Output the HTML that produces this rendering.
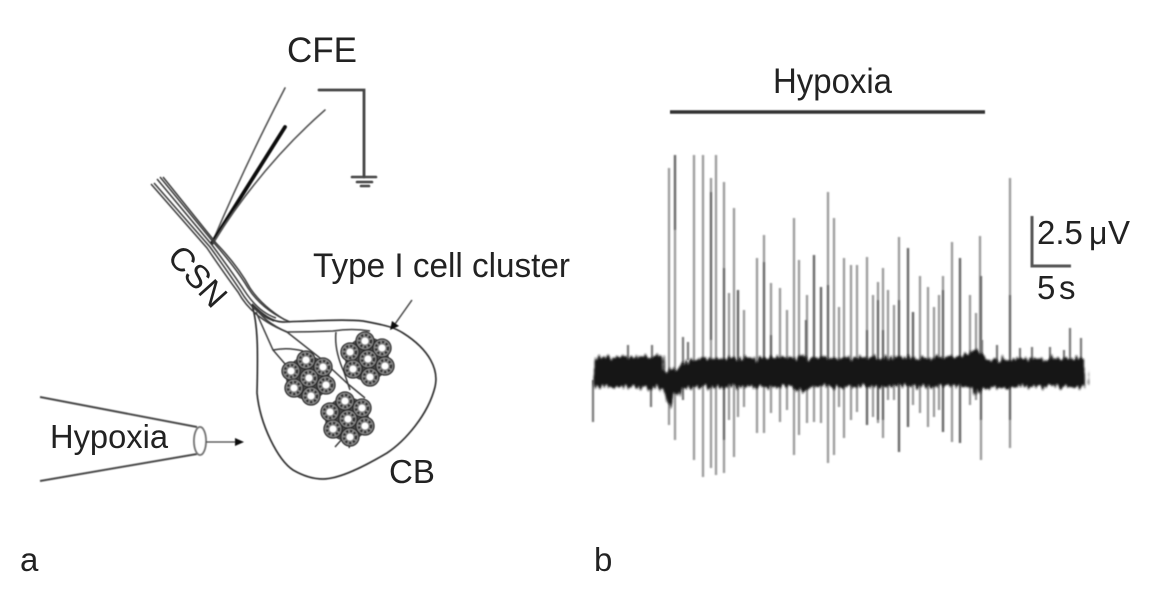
<!DOCTYPE html>
<html><head><meta charset="utf-8"><style>
html,body{margin:0;padding:0;background:#fff}
svg{display:block}
text{font-family:"Liberation Sans",sans-serif;fill:#222}
</style></head><body>
<svg width="1166" height="597" viewBox="0 0 1166 597" xmlns="http://www.w3.org/2000/svg">
<defs>
<filter id="b" x="-5%" y="-5%" width="110%" height="110%"><feGaussianBlur stdDeviation="0.6"/></filter>
<filter id="s" x="-5%" y="-5%" width="110%" height="110%"><feGaussianBlur stdDeviation="0.7"/></filter>
<filter id="n" x="-2%" y="-30%" width="104%" height="160%">
<feTurbulence type="fractalNoise" baseFrequency="0.35 0.02" numOctaves="2" seed="4" result="t"/>
<feDisplacementMap in="SourceGraphic" in2="t" scale="12" xChannelSelector="G" yChannelSelector="R"/>
<feGaussianBlur stdDeviation="1"/>
</filter>
<g id="ro">
<circle r="9" fill="#8a8a8a" stroke="#2a2a2a" stroke-width="1.3"/>
<circle r="6" fill="none" stroke="#333" stroke-width="2.6" stroke-dasharray="2.4 1.6"/>
<circle r="3.4" fill="#fff"/>
</g>
<g id="cl">
<circle r="22" fill="#444"/>
<use href="#ro" x="-17" y="-7"/><use href="#ro" x="-2" y="-18"/><use href="#ro" x="15" y="-11"/>
<use href="#ro" x="1" y="0"/><use href="#ro" x="18" y="7"/><use href="#ro" x="-14" y="10"/><use href="#ro" x="3" y="18"/>
</g>
</defs>

<g filter="url(#b)">
<!-- electrodes -->
<g fill="none" stroke-linecap="round">
<path d="M212 243 Q245 165 285 88" stroke="#555" stroke-width="1.6"/>
<path d="M212 243 L285 127" stroke="#111" stroke-width="3.8"/>
<path d="M213 243 Q262 165 325 110" stroke="#555" stroke-width="1.6"/>
<path d="M319 90 H364 V177" stroke="#444" stroke-width="2.8"/>
<path d="M352 177 H376" stroke="#444" stroke-width="2.6"/>
<path d="M357 182 H372" stroke="#444" stroke-width="2.6"/>
<path d="M361 186 H369" stroke="#444" stroke-width="2.6"/>
</g>
<!-- nerve -->
<g fill="none" stroke="#3c3c3c" stroke-width="1.5">
<path d="M154 183 L210 247 Q228 272 240 290 Q254 314 274 321"/>
<path d="M157 179 L212 245 Q232 272 244 290 Q258 312 276 318"/>
<path d="M160 177 L214 243 Q236 268 248 288 Q262 310 290 322"/>
<path d="M163 177 L216 243 Q238 266 250 288 Q262 306 285 320"/>
<path d="M151 184 L207 248 Q226 276 238 292 Q252 318 287 332 Q310 332 333 331 Q352 328 370 331"/>
<path d="M254 306 Q264 322 287 332 L320 358"/>
<path d="M256 312 L273 350 L292 372"/>
<path d="M273 350 Q288 347 303 351"/>
<path d="M336 332 Q334 350 344 372 L350 390"/>
<path d="M320 358 L348 384 L365 398"/>
<path d="M335 447 L343 438 M349 448 L352 438"/>
</g>
<!-- CB outline -->
<path d="M252 305 C258 325 258 350 257 393 C260 425 278 460 293 470 C305 477 315 479 323 479 C340 479 365 466 387 453 C405 441 428 415 435 387 C439 370 430 350 403 333 C395 328 390 326 363 321 C345 319 310 321 283 322 C272 322 262 314 252 304" fill="none" stroke="#333" stroke-width="1.7"/>
<!-- clusters -->
<use href="#cl" x="308" y="378"/>
<use href="#cl" x="367" y="359"/>
<use href="#cl" x="347" y="419"/>
<!-- arrows -->
<path d="M412 300 L395 324" stroke="#444" stroke-width="1.5"/>
<path d="M390 330 L392 321 L399 326 Z" fill="#111"/>
<path d="M40 397 L197 427 M40 481 L197 454" stroke="#4a4a4a" stroke-width="2" fill="none"/>
<ellipse cx="200" cy="441" rx="6" ry="14" fill="#fff" stroke="#777" stroke-width="2"/>
<path d="M206 442 H236" stroke="#444" stroke-width="1.3"/>
<path d="M244 442 L235 438 V446 Z" fill="#111"/>
<!-- bars -->
<path d="M670 112 H985" stroke="#333" stroke-width="3.4"/>
<path d="M1032 216 V266 H1071" fill="none" stroke="#555" stroke-width="3"/>
</g>

<g filter="url(#s)">
<!-- spikes light -->
<path stroke="#9a9a9a" stroke-width="2.3" fill="none" d="M669 168V425M694 155V460M703 155V477M711 178V468M716 155V475M724 182V473M734 208V457M729 293V420M738 290V417M744 310V407M757 258V433M764 235V433M771 283V413M780 288V422M787 310V410M794 218V455M799 260V435M807 295V423M814 255V422M821 287V423M828 192V463M834 218V455M839 307V407M844 258V438M851 265V420M857 265V412M867 257V425M873 295V417M878 282V423M883 268V438M888 290V400M894 305V400M899 237V452M908 248V427M913 312V405M920 276V413M928 287V427M934 307V417M939 295V410M943 276V432M952 242V442M960 258V443M970 295V405M976 313V400M980 236V370M981 370V460M1010 178V448M675 155V440"/>
<path stroke="#666" stroke-width="2.2" fill="none" d="M711 192V340M724 268V440M738 290V370M764 262V380M771 335V370M814 255V360M821 287V370M828 285V370M867 330V425M878 300V420M883 330V420M899 300V452M908 248V427M913 312V370M943 290V432M960 258V443M981 276V420M1010 295V420M675 155V230M806 320V370"/>
<path stroke="#777" stroke-width="2.2" fill="none" d="M593 380V422M628 345V362M652 345V362M651 385V407M683 337V365M688 342V360M683 385V400M1070 328V362M1081 338V362M1050 347V362M982 340V362M997 345V362M1020 348V362M1032 347V362M1064 350V362"/>
</g>
<!-- noise band -->
<g transform="translate(-4 -1)">
<polygon filter="url(#n)" fill="#141414" points="600,358 630,358 668,357 669,372 674,372 686,366 692,361 710,359 760,359 800,359 806,355 812,359 900,358 960,359 980,351 986,355 992,360 1087,359 1090,388 1040,388 992,388 984,393 980,397 976,388 900,387 820,388 808,391 802,393 796,388 700,388 688,390 684,399 680,394 676,403 672,406 668,390 630,388 600,388"/>
</g>

<text x="287" y="62" font-size="35" textLength="70" lengthAdjust="spacingAndGlyphs">CFE</text>
<text x="773" y="93" font-size="35" textLength="119" lengthAdjust="spacingAndGlyphs">Hypoxia</text>
<text x="313" y="277" font-size="34.5" textLength="257" lengthAdjust="spacingAndGlyphs">Type I cell cluster</text>
<text x="50" y="448" font-size="33" textLength="118" lengthAdjust="spacingAndGlyphs">Hypoxia</text>
<text x="389" y="483" font-size="33">CB</text>
<text x="0" y="0" font-size="33" transform="translate(166 258) rotate(48)">CSN</text>
<text x="1037" y="244" font-size="33">2.5</text>
<text x="1089" y="244" font-size="32">μ</text>
<text x="1108" y="244" font-size="33">V</text>
<text x="1037" y="299" font-size="33">5</text>
<text x="1059" y="299" font-size="33">s</text>
<text x="20" y="571" font-size="33">a</text>
<text x="594" y="571" font-size="33">b</text>
</svg>
</body></html>
